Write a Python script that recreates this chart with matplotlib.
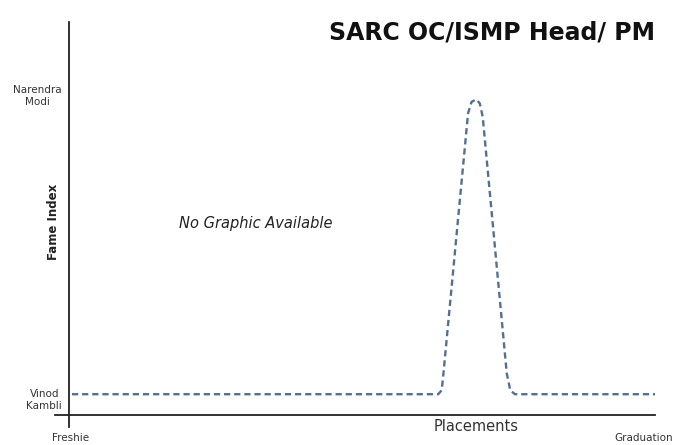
#!/usr/bin/env python3
"""
plot.py - fame index over the college years (hand drawn style chart)
"""

import matplotlib
matplotlib.use('Agg')
import matplotlib.pyplot as plt

# career position (0 = Freshie, 100 = Graduation) vs fame index
career = [0.5, 63.0, 63.6, 63.9, 68.1, 68.7, 69.5, 70.1, 70.6, 74.7, 75.3, 76.1, 100]
fame = [0.53, 0.53, 0.63, 1.06, 7.64, 7.93, 7.99, 7.89, 7.55, 1.06, 0.63, 0.53, 0.53]

fame_ticks = [0.43, 8.13]
fame_labels = ['Vinod\nKambli', 'Narendra\nModi']
career_ticks = [0.3, 98.0]
career_labels = ['Freshie', 'Graduation']
peak_label = 'Placements'
peak_x = 69.5

title = 'SARC OC/ISMP Head/ PM'
LINE_COLOR = '#55708f'

plt.rcParams['lines.scale_dashes'] = False

fig = plt.figure(figsize=(6.8, 4.45), dpi=100)
ax = fig.add_axes([55 / 680, 1 - 427 / 445, 600 / 680, 405 / 445])

ax.plot(career, fame, color=LINE_COLOR, lw=1.7, dashes=(4.5, 2.8),
        solid_joinstyle='round')

ax.set_xlim(-2.39, 100)
ax.set_ylim(-0.30, 9.95)

# axis lines cross at the origin, like a sketch
for side in ['top', 'right']:
    ax.spines[side].set_visible(False)
ax.spines['left'].set_position(('data', 0))
ax.spines['bottom'].set_position(('data', 0))
ax.spines['left'].set_linewidth(1.3)
ax.spines['bottom'].set_linewidth(1.3)
ax.spines['left'].set_color('#222222')
ax.spines['bottom'].set_color('#222222')

ax.set_yticks(fame_ticks)
ax.set_yticklabels(fame_labels, fontsize=7.5, color='#333333',
                   multialignment='center')
ax.tick_params(axis='y', length=0, pad=5)

ax.set_xticks(career_ticks)
ax.set_xticklabels(career_labels, fontsize=7.5, color='#333333')
ax.tick_params(axis='x', length=0, pad=13)

ax.text(-2.73, 4.89, 'Fame Index', rotation=90, ha='center', va='center',
        fontsize=8.5, fontweight='bold', color='#222222', clip_on=False)
ax.text(peak_x, -0.28, peak_label, ha='center', va='center', fontsize=10.5,
        color='#333333', clip_on=False)
ax.text(31.9, 4.84, 'No Graphic Available', ha='center', va='center',
        fontsize=10.5, style='italic', color='#222222')

fig.text(655 / 680, 1 - 32 / 445, title, ha='right', va='center',
         fontsize=17, fontweight='bold', color='#111111')

fig.savefig('out.png', dpi=100)
print("Wrote file: out.png")
